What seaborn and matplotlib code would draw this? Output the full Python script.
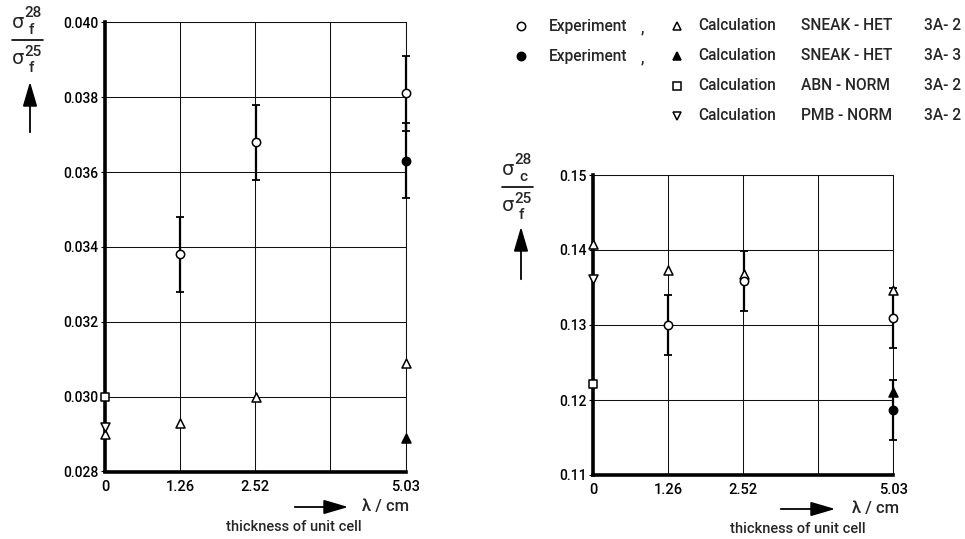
import matplotlib
matplotlib.use("Agg")
import matplotlib.pyplot as plt
import seaborn as sns
import pandas as pd
from matplotlib.lines import Line2D
from matplotlib import font_manager

# ---------------- data ----------------
x_ticks = [0, 1.2575, 2.515, 3.7725, 5.03]
x_tick_labels = ["0", "1.26", "2.52", "", "5.03"]

# left panel: sigma_f^28 / sigma_f^25
L_exp_open_x = [1.26, 2.52, 5.03]
L_exp_open_y = [0.0338, 0.0368, 0.0381]
L_exp_open_err = [0.0010, 0.0010, 0.0010]
L_exp_fill_x = [5.03]
L_exp_fill_y = [0.0363]
L_exp_fill_err = [0.0010]
L_sneak2_x = [0, 1.26, 2.52, 5.03]
L_sneak2_y = [0.0290, 0.0293, 0.0300, 0.0309]
L_sneak3_x = [5.03]
L_sneak3_y = [0.0289]
L_abn_x = [0]
L_abn_y = [0.0300]
L_pmb_x = [0]
L_pmb_y = [0.0292]
L_yticks = [0.028, 0.030, 0.032, 0.034, 0.036, 0.038, 0.040]
L_ytick_labels = ["0.028", "0.030", "0.032", "0.034", "0.036", "0.038", "0.040"]

# right panel: sigma_c^28 / sigma_f^25
R_exp_open_x = [1.26, 2.52, 5.03]
R_exp_open_y = [0.1300, 0.1359, 0.1309]
R_exp_open_err = [0.0040, 0.0040, 0.0040]
R_exp_fill_x = [5.03]
R_exp_fill_y = [0.1187]
R_exp_fill_err = [0.0040]
R_sneak2_x = [0, 1.26, 2.52, 5.03]
R_sneak2_y = [0.1408, 0.1374, 0.1368, 0.1347]
R_sneak3_x = [5.03]
R_sneak3_y = [0.1210]
R_abn_x = [0]
R_abn_y = [0.1221]
R_pmb_x = [0]
R_pmb_y = [0.1361]
R_yticks = [0.11, 0.12, 0.13, 0.14, 0.15]
R_ytick_labels = ["0.11", "0.12", "0.13", "0.14", "0.15"]

legend_rows = [
    ("o", "white", "Experiment", "^", "white", "Calculation", "SNEAK - HET", "3A- 2"),
    ("o", "black", "Experiment", "^", "black", "Calculation", "SNEAK - HET", "3A- 3"),
    (None, None, None, "s", "white", "Calculation", "ABN - NORM", "3A- 2"),
    (None, None, None, "v", "white", "Calculation", "PMB - NORM", "3A- 2"),
]

# ---------------- style ----------------
sns.set_theme(style="white")
names = {f.name for f in font_manager.fontManager.ttflist}
fam = "Liberation Sans Narrow" if "Liberation Sans Narrow" in names else "Roboto"
plt.rcParams["font.family"] = [fam, "DejaVu Sans"]
plt.rcParams["font.weight"] = "medium"
plt.rcParams["mathtext.fontset"] = "dejavusans"

W, H = 965, 539
def fx(x):
    return x / W
def fy(y):
    return 1 - y / H

fig = plt.figure(figsize=(W / 100, H / 100), dpi=100)
fig.patch.set_facecolor("white")

axL = fig.add_axes([fx(105), fy(471.5), (405.5 - 105) / W, (471.5 - 22.3) / H])
axR = fig.add_axes([fx(593.3), fy(475), (893.3 - 593.3) / W, (475 - 175) / H])

MS = {"o": 36, "^": 42, "v": 42, "s": 32}

def series_plot(ax, xs, ys, marker, face):
    df = pd.DataFrame({"x": xs, "y": ys})
    sns.scatterplot(data=df, x="x", y="y", ax=ax, marker=marker, s=MS[marker],
                    color=face, edgecolor="black", linewidth=1.1,
                    clip_on=False, zorder=5, legend=False)

def err_plot(ax, xs, ys, err):
    ax.errorbar(xs, ys, yerr=err, fmt="none", ecolor="black", elinewidth=1.6,
                capsize=3.2, capthick=1.3, clip_on=False, zorder=4)

def style_axes(ax, ylim, yticks, ylabels):
    ax.set_xlim(0, 5.03)
    ax.set_ylim(*ylim)
    ax.set_xticks(x_ticks)
    ax.set_xticklabels(x_tick_labels)
    ax.set_yticks(yticks)
    ax.set_yticklabels(ylabels)
    ax.grid(True, color="#111111", linewidth=0.75)
    ax.set_axisbelow(True)
    for side in ["left", "bottom"]:
        ax.spines[side].set_linewidth(2.6)
        ax.spines[side].set_color("black")
        ax.spines[side].set_zorder(3)
    for side in ["top", "right"]:
        ax.spines[side].set_linewidth(0.75)
        ax.spines[side].set_color("#111111")
    ax.tick_params(axis="x", length=0, pad=6, labelsize=10.5, colors="black")
    ax.tick_params(axis="y", length=3, width=0.8, pad=1.5, labelsize=10,
                   colors="black", direction="out", left=True)
    ax.set_xlabel("")
    ax.set_ylabel("")

# left panel
err_plot(axL, L_exp_open_x, L_exp_open_y, L_exp_open_err)
err_plot(axL, L_exp_fill_x, L_exp_fill_y, L_exp_fill_err)
series_plot(axL, L_sneak2_x, L_sneak2_y, "^", "white")
series_plot(axL, L_sneak3_x, L_sneak3_y, "^", "black")
series_plot(axL, L_abn_x, L_abn_y, "s", "white")
series_plot(axL, L_pmb_x, L_pmb_y, "v", "white")
series_plot(axL, L_exp_open_x, L_exp_open_y, "o", "white")
series_plot(axL, L_exp_fill_x, L_exp_fill_y, "o", "black")
style_axes(axL, (0.028, 0.040), L_yticks, L_ytick_labels)

# right panel
err_plot(axR, R_exp_open_x, R_exp_open_y, R_exp_open_err)
err_plot(axR, R_exp_fill_x, R_exp_fill_y, R_exp_fill_err)
series_plot(axR, R_sneak2_x, R_sneak2_y, "^", "white")
series_plot(axR, R_sneak3_x, R_sneak3_y, "^", "black")
series_plot(axR, R_abn_x, R_abn_y, "s", "white")
series_plot(axR, R_pmb_x, R_pmb_y, "v", "white")
series_plot(axR, R_exp_open_x, R_exp_open_y, "o", "white")
series_plot(axR, R_exp_fill_x, R_exp_fill_y, "o", "black")
style_axes(axR, (0.11, 0.15), R_yticks, R_ytick_labels)

# ---------------- y-axis ratio labels ----------------
def ratio_label(x0, yline, num_sub):
    fs_big, fs_small = 14, 11
    fig.text(fx(x0), fy(yline - 17), "σ", fontsize=fs_big, ha="left", va="center",
             family=["DejaVu Sans"])
    fig.text(fx(x0 + 12), fy(yline - 27), "28", fontsize=fs_small, ha="left", va="center")
    fig.text(fx(x0 + 17), fy(yline - 10), num_sub, fontsize=fs_small, ha="left", va="center")
    fig.add_artist(Line2D([fx(x0), fx(x0 + 31)], [fy(yline), fy(yline)],
                          color="black", lw=1.2, transform=fig.transFigure))
    fig.text(fx(x0), fy(yline + 18), "σ", fontsize=fs_big, ha="left", va="center",
             family=["DejaVu Sans"])
    fig.text(fx(x0 + 12), fy(yline + 12), "25", fontsize=fs_small, ha="left", va="center")
    fig.text(fx(x0 + 17), fy(yline + 28), "f", fontsize=fs_small, ha="left", va="center")

ratio_label(12, 40, "f")
ratio_label(502, 187, "c")

def arrow(x0, y0, x1, y1):
    fig.add_artist(matplotlib.patches.FancyArrowPatch(
        (fx(x0), fy(y0)), (fx(x1), fy(y1)), transform=fig.transFigure,
        arrowstyle="-|>,head_length=0.75,head_width=0.22", mutation_scale=20,
        color="black", lw=1.3))

arrow(30, 135, 30, 79)
arrow(521, 282, 521, 224)
arrow(292, 507, 351, 507)
arrow(778, 509, 838, 509)

fig.text(fx(362), fy(507), "λ / cm", fontsize=12, ha="left", va="center",
         family=[fam, "DejaVu Sans"])
fig.text(fx(852), fy(509), "λ / cm", fontsize=12, ha="left", va="center",
         family=[fam, "DejaVu Sans"])
fig.text(fx(294), fy(527), "thickness of unit cell", fontsize=10.5, ha="center", va="center")
fig.text(fx(798), fy(529), "thickness of unit cell", fontsize=10.5, ha="center", va="center")

# ---------------- legend ----------------
row_y = [26, 56, 86, 116]
LFS = 11.2
for yy, (m1, f1, t1, m2, f2, t2, t3, t4) in zip(row_y, legend_rows):
    if m1 is not None:
        fig.add_artist(Line2D([fx(521)], [fy(yy)], marker=m1, markersize=6,
                              markerfacecolor=f1, markeredgecolor="black",
                              markeredgewidth=1.1, linestyle="none",
                              transform=fig.transFigure))
        fig.text(fx(549), fy(yy), t1, fontsize=LFS, ha="left", va="center")
        fig.text(fx(641), fy(yy + 6), ",", fontsize=LFS, ha="left", va="baseline")
    fig.add_artist(Line2D([fx(677)], [fy(yy)], marker=m2, markersize=6,
                          markerfacecolor=f2, markeredgecolor="black",
                          markeredgewidth=1.1, linestyle="none",
                          transform=fig.transFigure))
    fig.text(fx(698), fy(yy), t2, fontsize=LFS, ha="left", va="center")
    fig.text(fx(801), fy(yy), t3, fontsize=LFS, ha="left", va="center")
    fig.text(fx(924), fy(yy), t4, fontsize=LFS, ha="left", va="center")

fig.savefig("out.png", dpi=100, facecolor="white")
